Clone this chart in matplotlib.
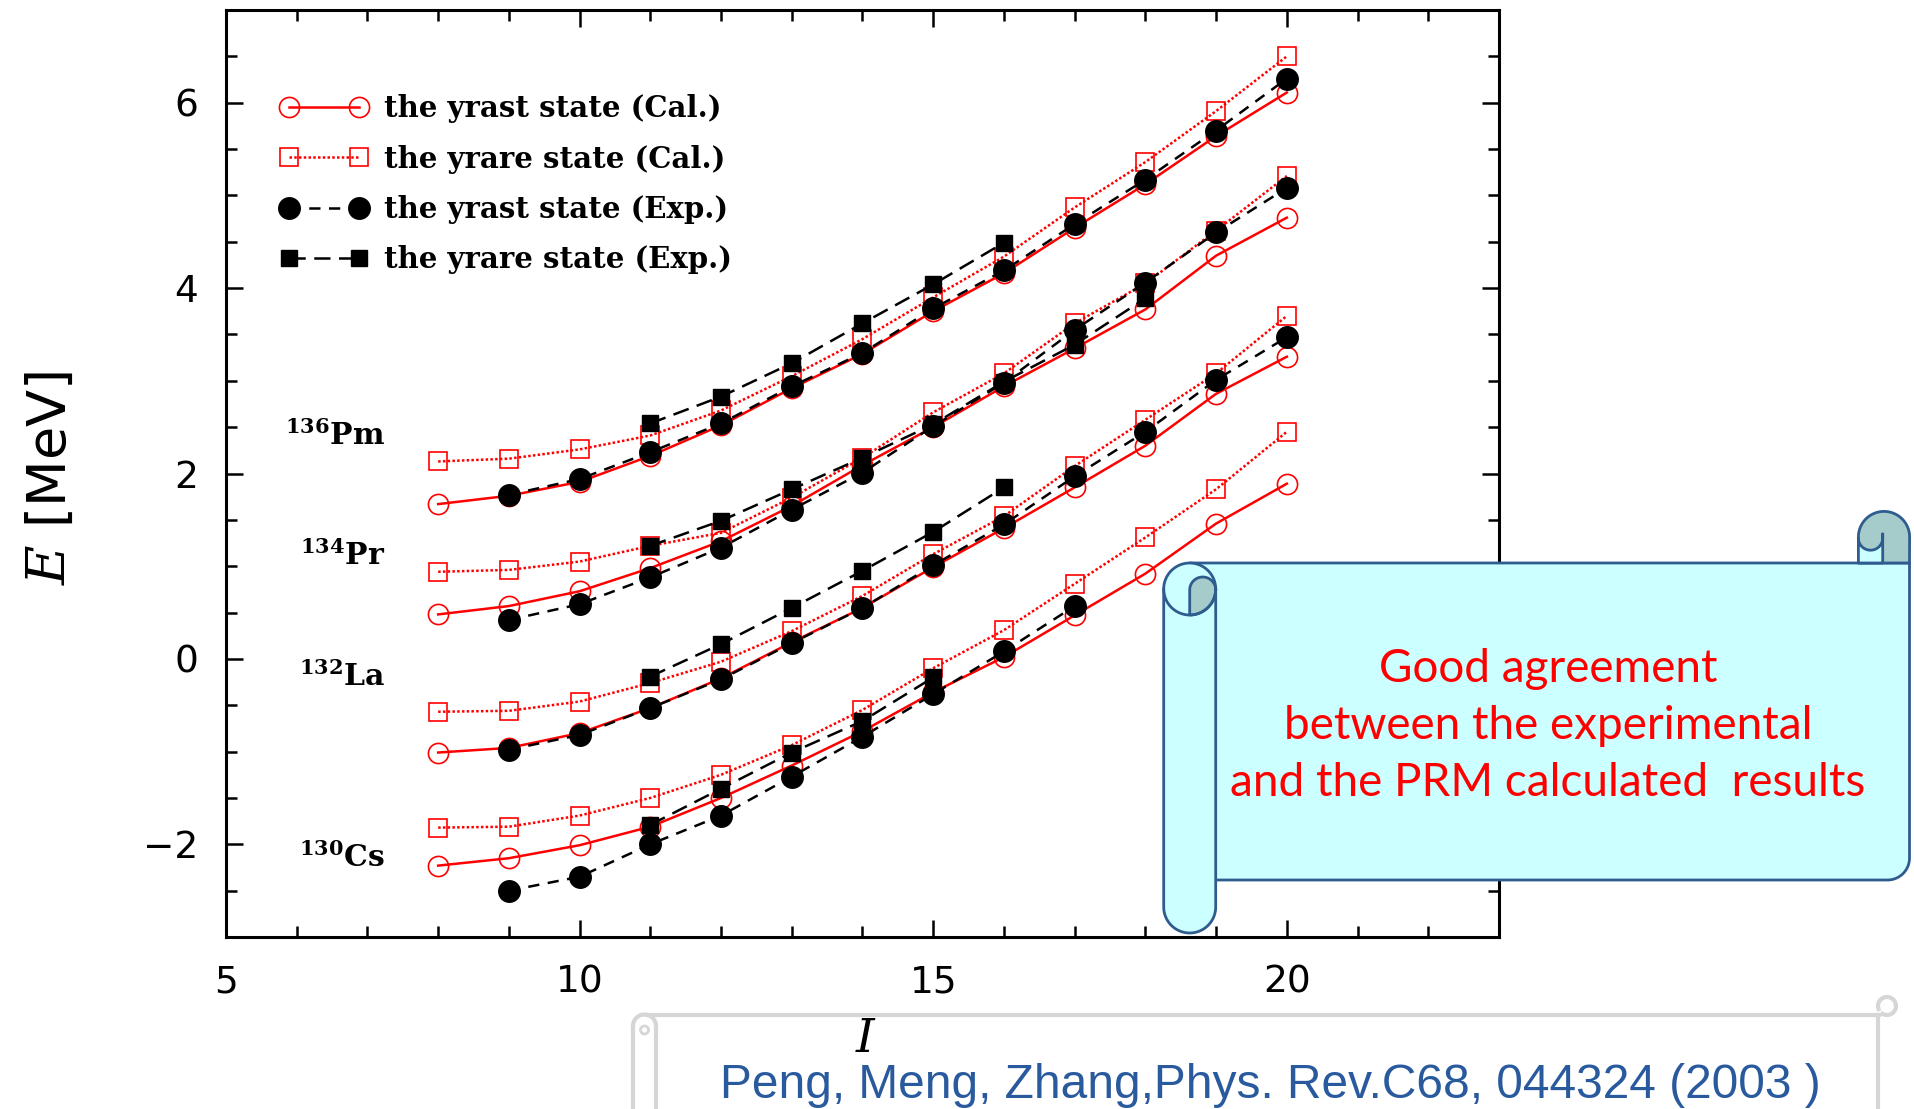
import numpy as np
import matplotlib.pyplot as plt
from matplotlib.ticker import MultipleLocator
from matplotlib.patches import Polygon
from matplotlib.lines import Line2D

plt.rcParams['mathtext.fontset'] = 'dejavuserif'

# spin values
spin_cal = [8, 9, 10, 11, 12, 13, 14, 15, 16, 17, 18, 19, 20]
spin_exp = [9, 10, 11, 12, 13, 14, 15, 16, 17, 18, 19, 20]
spin_exp_cs = [9, 10, 11, 12, 13, 14, 15, 16, 17]
spin_yrare_pm = [11, 12, 13, 14, 15, 16]
spin_yrare_pr = [11, 12, 13, 14, 15, 16, 17, 18]
spin_yrare_la = [11, 12, 13, 14, 15, 16]
spin_yrare_cs = [11, 12, 13, 14, 15]

# 136Pm (shifted energies, MeV)
pm_yrast_cal = [1.67, 1.76, 1.91, 2.19, 2.52, 2.92, 3.29, 3.75, 4.16, 4.65, 5.12, 5.64, 6.11]
pm_yrare_cal = [2.13, 2.16, 2.26, 2.41, 2.68, 3.05, 3.45, 3.90, 4.34, 4.87, 5.36, 5.91, 6.50]
pm_yrast_exp = [1.77, 1.94, 2.23, 2.54, 2.94, 3.30, 3.78, 4.19, 4.69, 5.17, 5.70, 6.26]
pm_yrare_exp = [2.54, 2.83, 3.19, 3.62, 4.04, 4.49]

# 134Pr
pr_yrast_cal = [0.48, 0.57, 0.73, 0.98, 1.27, 1.65, 2.09, 2.50, 2.94, 3.35, 3.77, 4.35, 4.76]
pr_yrare_cal = [0.94, 0.96, 1.05, 1.22, 1.36, 1.74, 2.17, 2.66, 3.08, 3.62, 4.05, 4.62, 5.21]
pr_yrast_exp = [0.42, 0.59, 0.88, 1.20, 1.61, 2.01, 2.51, 2.98, 3.55, 4.06, 4.60, 5.08]
pr_yrare_exp = [1.22, 1.49, 1.83, 2.17, 2.53, 2.99, 3.39, 3.89]

# 132La
la_yrast_cal = [-1.01, -0.96, -0.80, -0.53, -0.21, 0.18, 0.55, 0.99, 1.41, 1.85, 2.30, 2.86, 3.26]
la_yrare_cal = [-0.57, -0.56, -0.46, -0.26, -0.03, 0.30, 0.68, 1.13, 1.54, 2.08, 2.58, 3.08, 3.70]
la_yrast_exp = [-0.98, -0.82, -0.53, -0.22, 0.17, 0.55, 1.01, 1.45, 1.97, 2.45, 3.01, 3.47]
la_yrare_exp = [-0.19, 0.16, 0.55, 0.95, 1.37, 1.85]

# 130Cs
cs_yrast_cal = [-2.23, -2.15, -2.01, -1.81, -1.50, -1.15, -0.78, -0.36, 0.02, 0.47, 0.92, 1.46, 1.89]
cs_yrare_cal = [-1.82, -1.81, -1.69, -1.50, -1.25, -0.93, -0.55, -0.10, 0.31, 0.81, 1.31, 1.83, 2.45]
cs_yrast_exp = [-2.50, -2.35, -2.00, -1.69, -1.27, -0.84, -0.38, 0.08, 0.57]
cs_yrare_exp = [-1.79, -1.40, -1.01, -0.67, -0.20]

nucleus_labels = [r'$\mathbf{^{136}Pm}$', r'$\mathbf{^{134}Pr}$', r'$\mathbf{^{132}La}$', r'$\mathbf{^{130}Cs}$']
nucleus_label_y = [2.31, 1.01, -0.29, -2.24]

legend_labels = ['the yrast state (Cal.)', 'the yrare state (Cal.)',
                 'the yrast state (Exp.)', 'the yrare state (Exp.)']

styles = [
    dict(color='red', ls='-', lw=1.8, marker='o', ms=14.5, mfc='none', mec='red', mew=1.2),
    dict(color='red', ls=(0, (1.0, 0.9)), lw=1.8, marker='s', ms=13, mfc='none', mec='red', mew=1.2),
    dict(color='black', ls=(0, (4.5, 3.4)), lw=1.8, marker='o', ms=15.5, mfc='black', mec='black'),
    dict(color='black', ls=(0, (6.5, 3.4)), lw=1.8, marker='s', ms=12, mfc='black', mec='black'),
]

nuclei = [
    [(spin_cal, pm_yrast_cal), (spin_cal, pm_yrare_cal), (spin_exp, pm_yrast_exp), (spin_yrare_pm, pm_yrare_exp)],
    [(spin_cal, pr_yrast_cal), (spin_cal, pr_yrare_cal), (spin_exp, pr_yrast_exp), (spin_yrare_pr, pr_yrare_exp)],
    [(spin_cal, la_yrast_cal), (spin_cal, la_yrare_cal), (spin_exp, la_yrast_exp), (spin_yrare_la, la_yrare_exp)],
    [(spin_cal, cs_yrast_cal), (spin_cal, cs_yrare_cal), (spin_exp_cs, cs_yrast_exp), (spin_yrare_cs, cs_yrare_exp)],
]

W, H = 1914, 1109


def arc(cx, cy, r, a0, a1, n=40):
    # points on a circle in pixel space (y grows downwards)
    t = np.radians(np.linspace(a0, a1, n))
    return list(zip(cx + r * np.cos(t), cy - r * np.sin(t)))


def draw_scroll(ov):
    face, edge, curl = '#CCFFFF', '#2F5C8F', '#A5CBCB'
    kw = dict(lw=2, ec=edge, joinstyle='round')

    body = [(1190, 563), (1909.5, 563), (1909.5, 858)] + arc(1887.5, 858, 22, 0, -90) + [(1190, 880)]
    ov.add_patch(Polygon(body, closed=True, fc=face, **kw))

    # curl at the top right corner
    ov.add_patch(Polygon([(1858.4, 563)] + arc(1884, 537, 25.6, 180, 0) + [(1909.5, 563)],
                         closed=True, fc=curl, **kw))
    ov.add_patch(Polygon([(1858.4, 563), (1858.4, 538)] + arc(1870.5, 538, 12.2, 180, 360)
                         + [(1882.7, 534), (1882.7, 563)], closed=True, fc=face, **kw))

    # rolled left edge
    roll = [(1215.7, 589)] + arc(1189.7, 589, 26, 0, 180) + arc(1189.7, 907, 26, 180, 360)
    ov.add_patch(Polygon(roll, closed=True, fc=face, **kw))
    xs, ys = zip(*arc(1189.7, 589, 26, 180, 360))
    ov.plot(xs, ys, color=edge, lw=2)
    inner = [(1189.7, 615), (1189.7, 590)] + arc(1202.7, 590, 13, 180, 0) + arc(1189.7, 589, 26, 0, -90)
    ov.add_patch(Polygon(inner, closed=True, fc=curl, **kw))

    ov.text(1548, 726, 'Good agreement\nbetween the experimental\nand the PRM calculated  results',
            ha='center', va='center', color='red', fontsize=33, family='Lato', linespacing=1.45)


def draw_reference(ov):
    grey = '#D6D6D6'
    ov.plot([646, 1880], [1015, 1015], color=grey, lw=3, solid_capstyle='round')
    ov.plot([633, 633], [1026, 1109], color=grey, lw=3)
    ov.plot([656, 656], [1026, 1109], color=grey, lw=3)
    xs, ys = zip(*arc(644.5, 1026, 11.5, 180, 0))
    ov.plot(xs, ys, color=grey, lw=3)
    xs, ys = zip(*arc(644.5, 1030, 4, 0, 360))
    ov.plot(xs, ys, color=grey, lw=2)
    ov.plot([1878, 1878], [1015, 1109], color=grey, lw=3)
    xs, ys = zip(*arc(1887, 1006, 9, 200, -120))
    ov.plot(xs, ys, color=grey, lw=3)
    ov.text(1270, 1098, 'Peng, Meng, Zhang,Phys. Rev.C68, 044324 (2003 )',
            ha='center', va='baseline', color='#2A5A9E', fontsize=34.5, family='Liberation Sans')


def plot():
    fig = plt.figure(figsize=(W / 100, H / 100), dpi=100)
    ax = fig.add_axes([226 / W, 1 - 937 / H, (1499 - 226) / W, (937 - 10) / H])

    for series in nuclei:
        for (spins, energies), style in zip(series, styles):
            ax.plot(spins, energies, **style)

    for label, y in zip(nucleus_labels, nucleus_label_y):
        ax.text(7.25, y, label, ha='right', va='baseline', fontsize=21.5)

    handles = [Line2D([], [], **style) for style in styles]
    ax.legend(handles, legend_labels, loc='upper left', bbox_to_anchor=(0.043, 0.909),
              frameon=False, numpoints=2, handlelength=3.0, handletextpad=0.55,
              labelspacing=0.73, borderpad=0, borderaxespad=0,
              prop=dict(family='DejaVu Serif', weight='bold', size=21))

    ax.set_xlim(5, 23)
    ax.set_ylim(-3, 7)
    ax.xaxis.set_major_locator(MultipleLocator(5))
    ax.xaxis.set_minor_locator(MultipleLocator(1))
    ax.yaxis.set_major_locator(MultipleLocator(2))
    ax.yaxis.set_minor_locator(MultipleLocator(0.5))
    ax.tick_params(which='both', direction='in', top=True, right=True, width=1.8)
    ax.tick_params(which='major', length=12, labelsize=27, pad=20)
    ax.tick_params(which='minor', length=8)
    for spine in ax.spines.values():
        spine.set_linewidth(2.2)

    ax.set_xlabel(r'$I$', fontsize=34)
    ax.xaxis.set_label_coords(0.503, -0.086)
    ax.set_ylabel(r'$E$ [MeV]', fontsize=39)
    ax.yaxis.set_label_coords(-0.117, 0.495)

    ov = fig.add_axes([0, 0, 1, 1], zorder=5)
    ov.set_xlim(0, W)
    ov.set_ylim(H, 0)
    ov.axis('off')
    draw_scroll(ov)
    draw_reference(ov)

    fig.savefig('out.png', dpi=100)
    plt.close(fig)


if __name__ == '__main__':
    plot()
